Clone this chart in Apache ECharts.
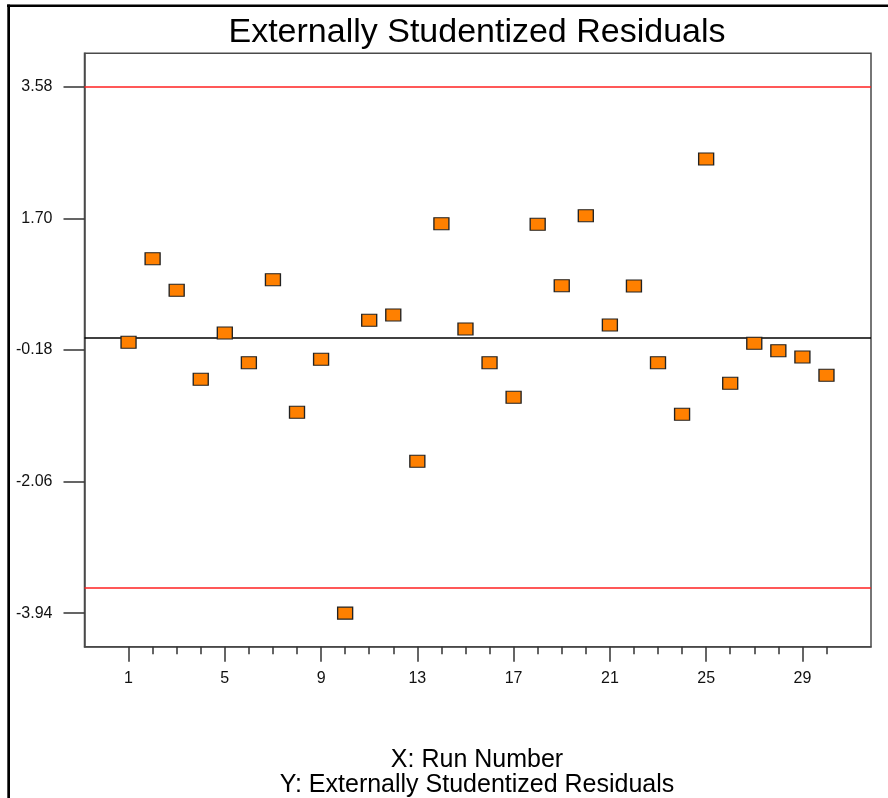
<!DOCTYPE html>
<html>
<head>
<meta charset="utf-8">
<script src="https://cdn.jsdelivr.net/npm/echarts@6/dist/echarts.min.js"></script>
<style>
html,body{margin:0;padding:0;background:#fff;}
#chart{width:888px;height:798px;}
</style>
</head>
<body>
<div id="chart"></div>
<script>
const runs = [1,2,3,4,5,6,7,8,9,10,11,12,13,14,15,16,17,18,19,20,21,22,23,24,25,26,27,28,29,30];
const residuals = [-0.071, 1.123, 0.671, -0.600, 0.061, -0.363, 0.823, -1.071, -0.314, -3.94,
                   0.243, 0.319, -1.771, 1.623, 0.119, -0.363, -0.857, 1.614, 0.737, 1.737,
                   0.176, 0.733, -0.363, -1.100, 2.547, -0.657, -0.086, -0.191, -0.281, -0.543];
const yTickValues = [-3.94, -2.06, -0.18, 1.70, 3.58];
const xLabelValues = [1,5,9,13,17,21,25,29];
const xMinorValues = [1,2,3,4,5,6,7,8,9,10,11,12,13,14,15,16,17,18,19,20,21,22,23,24,25,26,27,28,29,30];
const limitLines = [3.58, -3.58];
const zeroLine = [0];
const titleText = 'Externally Studentized Residuals';
const xTitle = 'X: Run Number';
const yTitle = 'Y: Externally Studentized Residuals';

const FONT = '"Liberation Sans", Arial, sans-serif';
const chart = echarts.init(document.getElementById('chart'), null, {renderer: 'canvas'});

const xRange = {min: -0.83, max: 31.85};
const axisColor = '#4a4a4a';

chart.setOption({
  backgroundColor: '#ffffff',
  animation: false,
  grid: {
    left: 84.5, right: 17, top: 53.3, bottom: 151.3,
    show: true, borderColor: axisColor, borderWidth: 1.5, backgroundColor: 'transparent'
  },
  xAxis: [
    {
      type: 'value', min: xRange.min, max: xRange.max, position: 'bottom',
      axisLine: {show: true, onZero: false, lineStyle: {color: axisColor, width: 1.5}},
      axisTick: {show: true, length: 15, customValues: xLabelValues, lineStyle: {color: '#333', width: 1.5}},
      axisLabel: {show: true, customValues: xLabelValues, margin: 24, fontSize: 16, lineHeight: 16,
                  color: '#111', fontFamily: FONT},
      splitLine: {show: false}
    },
    {
      type: 'value', min: xRange.min, max: xRange.max, position: 'bottom', gridIndex: 0,
      axisLine: {show: false, onZero: false},
      axisTick: {show: true, length: 7.5, customValues: xMinorValues, lineStyle: {color: '#333', width: 1.5}},
      axisLabel: {show: false},
      splitLine: {show: false}
    }
  ],
  yAxis: {
    type: 'value', min: -4.42, max: 4.057,
    axisLine: {show: true, onZero: false, lineStyle: {color: axisColor, width: 1.5}},
    axisTick: {show: true, length: 21, customValues: yTickValues, lineStyle: {color: '#333', width: 1.5}},
    axisLabel: {show: true, customValues: yTickValues, margin: 32, fontSize: 16, color: '#111',
                fontFamily: FONT, formatter: v => v.toFixed(2)},
    splitLine: {show: false}
  },
  series: [
    {
      type: 'scatter',
      xAxisIndex: 0,
      symbol: 'rect',
      symbolSize: [15, 12],
      itemStyle: {color: '#ff8000', borderColor: '#222', borderWidth: 1.2, opacity: 1},
      data: runs.map((r, i) => [r, residuals[i]]),
      z: 5,
      markLine: {
        silent: true,
        symbol: 'none',
        label: {show: false},
        animation: false,
        data: limitLines.map(v => ({yAxis: v, lineStyle: {color: '#ff2020', width: 1.5, type: 'solid'}}))
          .concat(zeroLine.map(v => ({yAxis: v, lineStyle: {color: '#000', width: 1.5, type: 'solid'}}))),
        z: 3
      }
    }
  ],
  graphic: [
    {type: 'rect', shape: {x: 7, y: 4.5, width: 881, height: 2.5}, style: {fill: '#000'}, silent: true},
    {type: 'rect', shape: {x: 7.3, y: 4.5, width: 2.7, height: 794}, style: {fill: '#000'}, silent: true},
    {type: 'text', x: 477, y: 32.5, style: {text: titleText, font: '34px ' + FONT, fill: '#000',
      textAlign: 'center', textVerticalAlign: 'middle'}, silent: true},
    {type: 'text', x: 477, y: 760, style: {text: xTitle, font: '25px ' + FONT, fill: '#000',
      textAlign: 'center', textVerticalAlign: 'middle'}, silent: true},
    {type: 'text', x: 477, y: 785, style: {text: yTitle, font: '25px ' + FONT, fill: '#000',
      textAlign: 'center', textVerticalAlign: 'middle'}, silent: true}
  ]
});
</script>
</body>
</html>
